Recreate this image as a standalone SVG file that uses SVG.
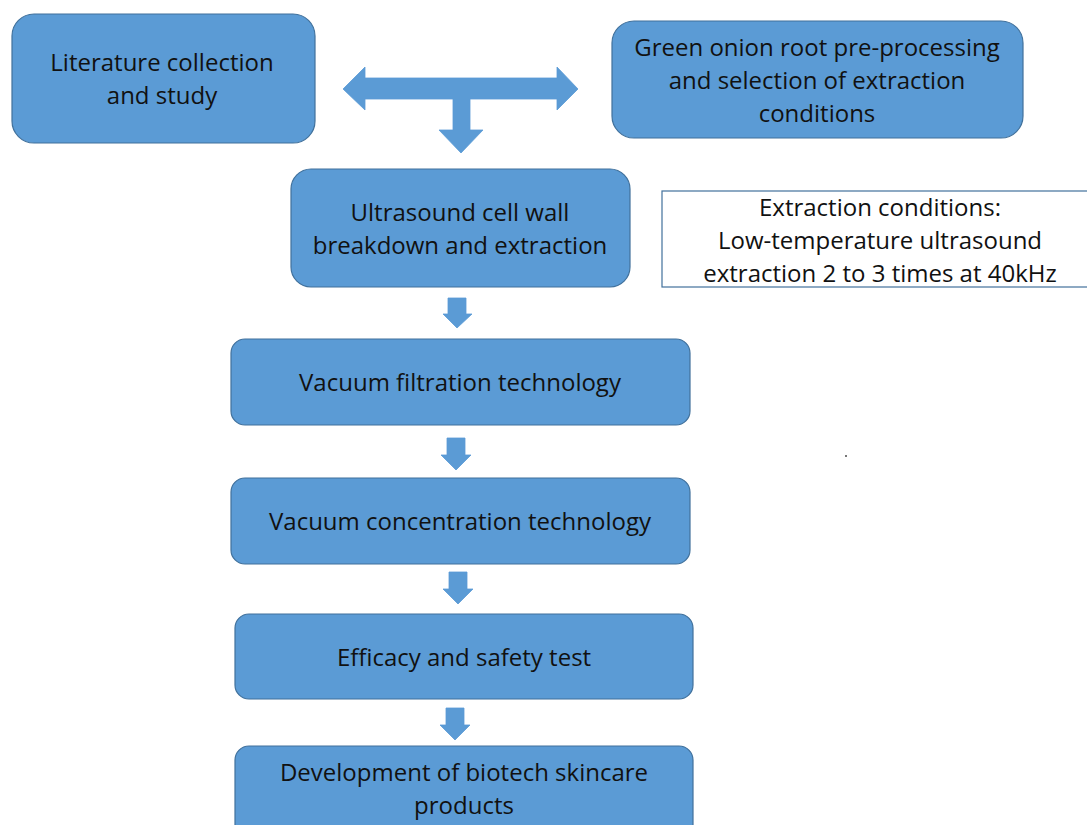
<svg xmlns="http://www.w3.org/2000/svg" width="1087" height="825" viewBox="0 0 1087 825">
<style>
.box{fill:#5b9bd5;stroke:#41719c;stroke-width:1.2}
.note{fill:#ffffff;stroke:#41719c;stroke-width:1.2}
.arr{fill:#5b9bd5;stroke:#5b9bd5;stroke-width:0.8;stroke-linejoin:miter}
text{font-family:"Open Sans","Liberation Sans",sans-serif;font-size:24px;fill:#111;text-anchor:middle}
</style>
<rect width="1087" height="825" fill="#ffffff"/>
<g id="n-literature"><rect class="box" x="12" y="14" width="303" height="129" rx="22"/><text x="162" y="71">Literature collection</text><text x="162" y="104">and study</text></g>
<g id="n-greenonion"><rect class="box" x="612" y="21" width="411" height="117" rx="22"/><text x="817" y="56">Green onion root pre-processing</text><text x="817" y="89">and selection of extraction</text><text x="817" y="122">conditions</text></g>
<g id="n-ultrasound"><rect class="box" x="291" y="169" width="339" height="118" rx="20"/><text x="460" y="221">Ultrasound cell wall</text><text x="460" y="254">breakdown and extraction</text></g>
<g id="n-conditions"><rect class="note" x="662" y="191" width="440" height="96"/><text x="880" y="216">Extraction conditions:</text><text x="880" y="249">Low-temperature ultrasound</text><text x="880" y="282">extraction 2 to 3 times at 40kHz</text></g>
<g id="n-filtration"><rect class="box" x="231" y="339" width="459" height="86" rx="14"/><text x="460" y="391">Vacuum filtration technology</text></g>
<g id="n-concentration"><rect class="box" x="231" y="478" width="459" height="86" rx="14"/><text x="460" y="530">Vacuum concentration technology</text></g>
<g id="n-efficacy"><rect class="box" x="235" y="614" width="458" height="85" rx="14"/><text x="464" y="666">Efficacy and safety test</text></g>
<g id="n-development"><rect class="box" x="235" y="746" width="458" height="100" rx="14"/><text x="464" y="781">Development of biotech skincare</text><text x="464" y="814">products</text></g>
<g id="connectors">
<path class="arr" d="M343,89 L365,67 L365,78 L557,78 L557,67 L578,89 L557,110 L557,99 L470,99 L470,130 L483,130 L461,153 L439,130 L453,130 L453,99 L365,99 L365,110 Z"/>
<path class="arr" d="M448,298 L466,298 L466,314 L472,314 L457,328 L443,314 L448,314 Z"/>
<path class="arr" d="M447,438 L465,438 L465,455 L471,455 L456,470 L441,455 L447,455 Z"/>
<path class="arr" d="M449,572 L467,572 L467,589 L473,589 L458,604 L443,589 L449,589 Z"/>
<path class="arr" d="M446,708 L464,708 L464,725 L470,725 L455,740 L440,725 L446,725 Z"/>
</g>
<rect x="845" y="455" width="2" height="2" fill="#777"/>
</svg>
